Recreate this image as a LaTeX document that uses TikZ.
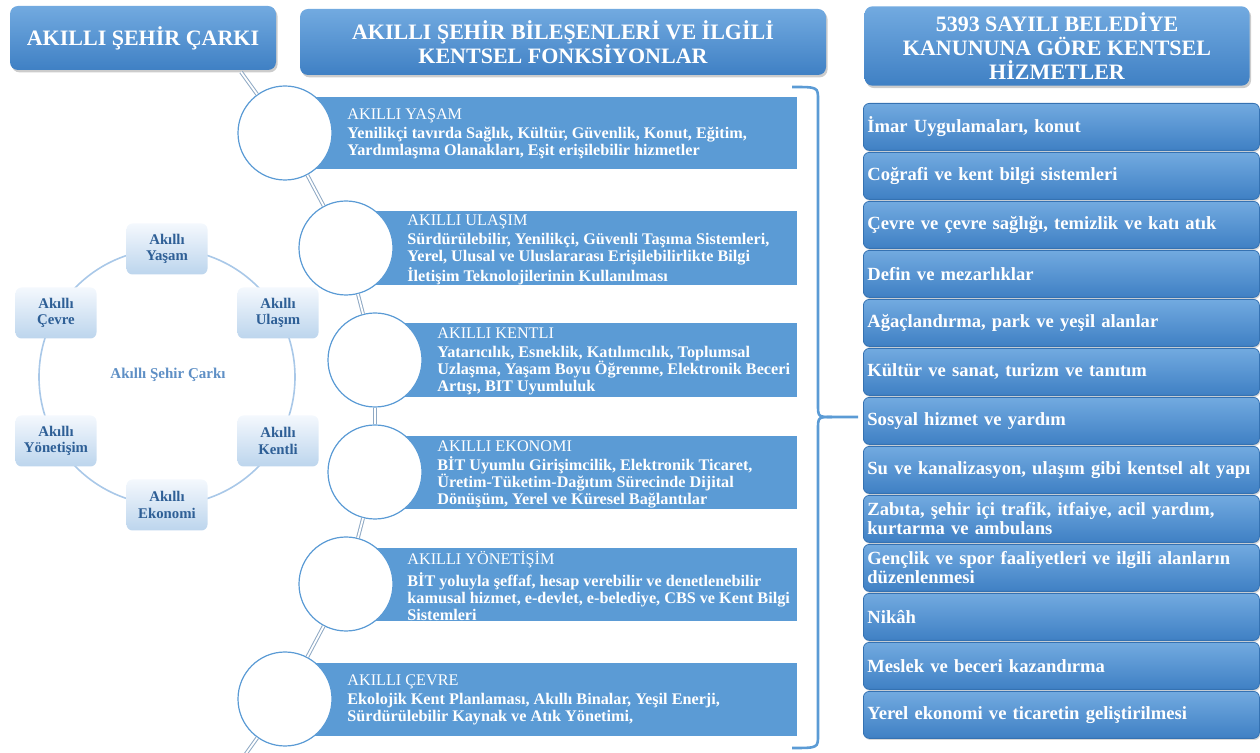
\documentclass[tikz,border=0pt]{standalone}
\usepackage{fontspec}
\setmainfont{Liberation Serif}
\usetikzlibrary{shadows}

\definecolor{headtop}{HTML}{72AAE0}
\definecolor{headbot}{HTML}{3F80C4}
\definecolor{bandblue}{HTML}{5B9BD5}
\definecolor{listedge}{HTML}{3572B2}
\definecolor{linkgray}{HTML}{8FA9C4}
\definecolor{wheelline}{HTML}{A9C8E8}
\definecolor{wheeltop}{HTML}{F4F8FD}
\definecolor{wheelbot}{HTML}{BCD5ED}
\definecolor{wheeltext}{HTML}{2E5F96}
\definecolor{hubtext}{HTML}{5E8FC5}

\tikzset{
  header/.style={rectangle, rounded corners=4pt, top color=headtop, bottom color=headbot,
    drop shadow={opacity=0.4, shadow xshift=0.8pt, shadow yshift=-1.2pt},
    text=white, align=center, font=\fontsize{11}{11.8}\selectfont\bfseries},
  ring/.style={circle, draw=bandblue, line width=0.6pt, fill=white, minimum size=47pt, inner sep=0pt},
  link/.style={draw=linkgray, double=white, double distance=0.9pt, line width=0.5pt},
  bandtext/.style={anchor=west, inner sep=0pt, text=white, align=left, font=\fontsize{8.1}{8.5}\selectfont\bfseries},
  bracket/.style={draw=bandblue, line width=1.3pt},
  service/.style={rectangle, anchor=north west, rounded corners=3pt, top color=headtop, bottom color=headbot,
    draw=listedge, line width=0.4pt, text width=194pt, minimum height=23.5pt, inner xsep=2pt,
    align=left, text=white, font=\fontsize{9.3}{9.5}\selectfont\bfseries,
    drop shadow={opacity=0.3, shadow xshift=0.5pt, shadow yshift=-0.8pt}},
  wheelbox/.style={rectangle, rounded corners=3pt, top color=wheeltop, bottom color=wheelbot,
    minimum width=40.5pt, minimum height=25.5pt, inner sep=0pt, align=center,
    text=wheeltext, font=\fontsize{7.4}{8.2}\selectfont\bfseries}
}

\newcommand{\bandhead}[1]{{\mdseries #1}\\[1pt]}

\begin{document}
\begin{tikzpicture}[x=0.5pt, y=-0.5pt]
  \useasboundingbox (0,0) rectangle (1260,753);

  % Başlıklar
  \node[header, minimum width=133pt, minimum height=32pt] (h1) at (143,38) {AKILLI ŞEHİR ÇARKI};
  \node[header, minimum width=263pt, minimum height=33pt] (h2) at (563,42)
    {AKILLI ŞEHİR BİLEŞENLERİ VE İLGİLİ\\KENTSEL FONKSİYONLAR};
  \node[header, minimum width=192.5pt, minimum height=34pt] (h3) at (1057,46)
    {5393 SAYILI BELEDİYE\\KANUNUNA GÖRE KENTSEL\\HİZMETLER};

  % Çark
  \draw[wheelline, line width=0.8pt] (167,377) circle (64pt);
  \node[text=hubtext, font=\fontsize{7.5}{8}\selectfont\bfseries] (hub) at (168,375) {Akıllı Şehir Çarkı};
  \node[wheelbox] (w1) at (167,249) {Akıllı\\Yaşam};
  \node[wheelbox] (w2) at (278,313) {Akıllı\\Ulaşım};
  \node[wheelbox] (w3) at (278,441) {Akıllı\\Kentli};
  \node[wheelbox] (w4) at (167,505) {Akıllı\\Ekonomi};
  \node[wheelbox] (w5) at (56,441) {Akıllı\\Yönetişim};
  \node[wheelbox] (w6) at (56,313) {Akıllı\\Çevre};

  % Bileşenler
  \fill[bandblue] (285,97) rectangle (797,169);
  \fill[bandblue] (346,211) rectangle (797,285);
  \fill[bandblue] (375,323) rectangle (797,397);
  \fill[bandblue] (375,436) rectangle (797,509);
  \fill[bandblue] (346,548) rectangle (797,621);
  \fill[bandblue] (285,663) rectangle (797,736);

  \coordinate (linktop) at (241,72);
  \coordinate (linkbot) at (240,762);
  \node[ring] (c1) at (285,133) {};
  \node[ring] (c2) at (346,248) {};
  \node[ring] (c3) at (375,360) {};
  \node[ring] (c4) at (375,472) {};
  \node[ring] (c5) at (346,584) {};
  \node[ring] (c6) at (285,699) {};
  \draw[link] (linktop) -- (c1);
  \draw[link] (c1) -- (c2);
  \draw[link] (c2) -- (c3);
  \draw[link] (c3) -- (c4);
  \draw[link] (c4) -- (c5);
  \draw[link] (c5) -- (c6);
  \draw[link] (c6) -- (linkbot);

  \node[bandtext] (b1) at (347,134) {\bandhead{AKILLI YAŞAM}
    Yenilikçi tavırda Sağlık, Kültür, Güvenlik, Konut, Eğitim,\\
    Yardımlaşma Olanakları, Eşit erişilebilir hizmetler};
  \node[bandtext] (b2) at (407,250) {\bandhead{AKILLI ULAŞIM}
    Sürdürülebilir, Yenilikçi, Güvenli Taşıma Sistemleri,\\
    Yerel, Ulusal ve Uluslararası Erişilebilirlikte Bilgi\\
    İletişim Teknolojilerinin Kullanılması};
  \node[bandtext] (b3) at (437,361) {\bandhead{AKILLI KENTLI}
    Yatarıcılık, Esneklik, Katılımcılık, Toplumsal\\
    Uzlaşma, Yaşam Boyu Öğrenme, Elektronik Beceri\\
    Artışı, BIT Uyumluluk};
  \node[bandtext] (b4) at (437,474) {\bandhead{AKILLI EKONOMI}
    BİT Uyumlu Girişimcilik, Elektronik Ticaret,\\
    Üretim-Tüketim-Dağıtım Sürecinde Dijital\\
    Dönüşüm, Yerel ve Küresel Bağlantılar};
  \node[bandtext] (b5) at (407,586) {\bandhead{AKILLI YÖNETİŞİM}
    BİT yoluyla şeffaf, hesap verebilir ve denetlenebilir\\
    kamusal hizmet, e-devlet, e-belediye, CBS ve Kent Bilgi\\
    Sistemleri};
  \node[bandtext] (b6) at (347,700) {\bandhead{AKILLI ÇEVRE}
    Ekolojik Kent Planlaması, Akıllı Binalar, Yeşil Enerji,\\
    Sürdürülebilir Kaynak ve Atık Yönetimi,};

  % Ayraç
  \draw[bracket] (792,87) .. controls (818,87) .. (818,100) -- (818,404)
    .. controls (818,417) .. (832,417) -- (858,417);
  \draw[bracket] (832,417) .. controls (818,417) .. (818,430) -- (818,735)
    .. controls (818,748) .. (792,748);

  % Hizmetler
  \node[service] (s1) at (863,103) {İmar Uygulamaları, konut};
  \node[service] (s2) at (863,152) {Coğrafi ve kent bilgi sistemleri};
  \node[service] (s3) at (863,201) {Çevre ve çevre sağlığı, temizlik ve katı atık};
  \node[service] (s4) at (863,250) {Defin ve mezarlıklar};
  \node[service] (s5) at (863,299) {Ağaçlandırma, park ve yeşil alanlar};
  \node[service] (s6) at (863,348) {Kültür ve sanat, turizm ve tanıtım};
  \node[service] (s7) at (863,397) {Sosyal hizmet ve yardım};
  \node[service] (s8) at (863,446) {Su ve kanalizasyon, ulaşım gibi kentsel alt yapı};
  \node[service] (s9) at (863,495) {Zabıta, şehir içi trafik, itfaiye, acil yardım,\\kurtarma ve ambulans};
  \node[service] (s10) at (863,544) {Gençlik ve spor faaliyetleri ve ilgili alanların\\düzenlenmesi};
  \node[service] (s11) at (863,593) {Nikâh};
  \node[service] (s12) at (863,642) {Meslek ve beceri kazandırma};
  \node[service] (s13) at (863,691) {Yerel ekonomi ve ticaretin geliştirilmesi};
\end{tikzpicture}
\end{document}
